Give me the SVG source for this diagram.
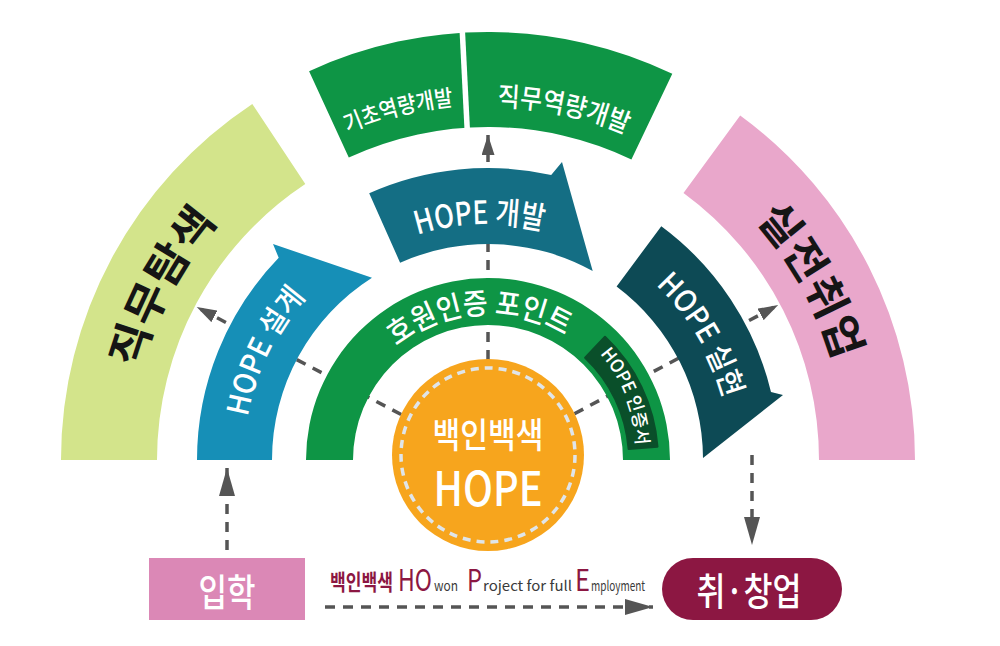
<svg xmlns="http://www.w3.org/2000/svg" xmlns:xlink="http://www.w3.org/1999/xlink" width="1000" height="646" viewBox="0 0 1000 646">
<style>
.t{font-family:"Noto Sans CJK KR","Noto Sans",sans-serif;}
.w{fill:#fff;font-weight:500;}
.k{fill:#151515;font-weight:bold;}
.m{fill:#8c1742;}
.g{fill:#3a3a3a;}
.dash{fill:none;stroke:#555;stroke-width:3.5;stroke-dasharray:10 8;}
</style>
<defs>
<marker id="ahL" markerUnits="userSpaceOnUse" markerWidth="28" markerHeight="16" viewBox="0 0 28 16" refX="28" refY="8" orient="auto"><path d="M0,0 L28,8 L0,16 Z" fill="#555"/></marker>
<marker id="ahS" markerUnits="userSpaceOnUse" markerWidth="20" markerHeight="13" viewBox="0 0 20 13" refX="20" refY="6.5" orient="auto"><path d="M0,0 L20,6.5 L0,13 Z" fill="#555"/></marker>
<path id="pSeol" d="M244.6,477 A244,244 0 0 1 351.6,257.7"/>
<path id="pGae" d="M362.9,259.9 A236,236 0 0 1 598.8,251.6"/>
<path id="pSil" d="M607.2,249.4 A244,244 0 0 1 732,457.9"/>
<path id="pHo" d="M370.6,373.2 A146,146 0 0 1 593.9,359.5"/>
<path id="pCert" d="M590.3,343.8 A148,148 0 0 1 635.8,459"/>
<path id="pJik" d="M128.2,472.6 A360,360 0 0 1 297.2,154.7"/>
<path id="pSiljeon" d="M673.4,151.4 A360,360 0 0 1 847.9,466.3"/>
<path id="pGicho" d="M238.9,205.6 A356,356 0 0 1 583.7,117.1"/>
<path id="pJikmu" d="M379.8,123 A354,354 0 0 1 725.8,197.8"/>
</defs>
<rect width="1000" height="646" fill="#fff"/>

<g id="connectors">
<line class="dash" x1="488" y1="360" x2="488" y2="135" marker-end="url(#ahS)"/>
<line class="dash" x1="401.2" y1="414.5" x2="196.7" y2="307.1" marker-end="url(#ahS)"/>
<line class="dash" x1="574.4" y1="413.8" x2="778.2" y2="305" marker-end="url(#ahS)"/>
<line class="dash" x1="227" y1="550" x2="227" y2="468" marker-end="url(#ahL)"/>
<line class="dash" x1="752" y1="455" x2="752" y2="545" marker-end="url(#ahL)"/>
<line class="dash" x1="325" y1="607" x2="653" y2="607" marker-end="url(#ahL)"/>
</g>

<g id="jikmu-tamsaek">
<path d="M61,460 A427,427 0 0 1 252.3,103.9 L305.3,184 A331,331 0 0 0 157,460 Z" fill="#d3e48b"/>
<text class="t k" font-size="43" text-anchor="middle"><textPath xlink:href="#pJik" startOffset="50%" textLength="168" lengthAdjust="spacingAndGlyphs">직무탐색</textPath></text>
</g>

<g id="siljeon-chwieop">
<path d="M740.2,115.4 A427,427 0 0 1 915,460 L819,460 A331,331 0 0 0 683.5,192.9 Z" fill="#e9a7cb"/>
<text class="t k" font-size="43" text-anchor="middle"><textPath xlink:href="#pSiljeon" startOffset="50%" textLength="164" lengthAdjust="spacingAndGlyphs">실전취업</textPath></text>
</g>

<g id="top-boxes">
<path d="M309.1,71.2 A428,428 0 0 1 672.3,73.7 L631.4,159.4 A333,333 0 0 0 348.8,157.5 Z" fill="#0e9545"/>
<line x1="462" y1="25" x2="467.5" y2="135" stroke="#fff" stroke-width="5.5"/>
</g>
<g id="gicho">
<text class="t w" font-size="23" text-anchor="middle"><textPath xlink:href="#pGicho" startOffset="50%" textLength="110" lengthAdjust="spacingAndGlyphs">기초역량개발</textPath></text>
</g>
<g id="jikmu-dev">
<text class="t w" font-size="27" text-anchor="middle"><textPath xlink:href="#pJikmu" startOffset="50%" textLength="132" lengthAdjust="spacingAndGlyphs">직무역량개발</textPath></text>
</g>

<g id="hope-design">
<path d="M197,460 A291,291 0 0 1 278.7,257.8 L273,244 L372,277.8 A216,216 0 0 0 272,460 Z" fill="#168fb7"/>
<text class="t w" font-size="30" text-anchor="middle"><textPath xlink:href="#pSeol" startOffset="50%" textLength="135" lengthAdjust="spacingAndGlyphs">HOPE 설계</textPath></text>
</g>

<g id="hope-dev">
<path d="M369.2,193.2 A292,292 0 0 1 551.2,174.9 L562,162 L592.7,271.1 A216,216 0 0 0 400.1,262.7 Z" fill="#146e84"/>
<text class="t w" font-size="32" text-anchor="middle"><textPath xlink:href="#pGae" startOffset="50%" textLength="127" lengthAdjust="spacingAndGlyphs">HOPE 개발</textPath></text>
</g>

<g id="hope-realize">
<path d="M661.3,226.2 A291,291 0 0 1 771,392.1 L783,395 L703,458 A216,216 0 0 0 616.6,286.5 Z" fill="#0d4a55"/>
<text class="t w" font-size="30" text-anchor="middle"><textPath xlink:href="#pSil" startOffset="50%" textLength="134" lengthAdjust="spacingAndGlyphs">HOPE 실현</textPath></text>
</g>

<g id="howon-point">
<path d="M306,460 A182,182 0 0 1 670,460 L623,460 A135,135 0 0 0 353,460 Z" fill="#0e9545"/>
<text class="t w" font-size="30" text-anchor="middle"><textPath xlink:href="#pHo" startOffset="50%" textLength="180" lengthAdjust="spacingAndGlyphs">호원인증 포인트</textPath></text>
</g>

<g id="hope-cert">
<path d="M605,336.7 A170,170 0 0 1 657.5,446.7 L628.6,448.9 A141,141 0 0 0 585.1,357.7 Z" fill="#0a4f2a" stroke="#0a4f2a" stroke-width="2" stroke-linejoin="round"/>
<text class="t w" font-size="18" text-anchor="middle"><textPath xlink:href="#pCert" startOffset="50%" textLength="100" lengthAdjust="spacingAndGlyphs">HOPE 인증서</textPath></text>
</g>

<g id="center-hope">
<circle cx="488" cy="455" r="96" fill="#f7a51d"/>
<circle cx="488" cy="455" r="87" fill="none" stroke="#dfe5ea" stroke-width="3.5" stroke-dasharray="8 6"/>
<text class="t w" text-anchor="middle" lengthAdjust="spacingAndGlyphs"><tspan x="488" y="448" font-size="35" textLength="111" lengthAdjust="spacingAndGlyphs">백인백색</tspan><tspan x="488" y="506" font-size="47" textLength="109" lengthAdjust="spacingAndGlyphs">HOPE</tspan></text>
</g>

<g id="ipak">
<rect x="149" y="558" width="156" height="62" fill="#db88b6"/>
<text class="t w" x="227" y="606" font-size="38" font-weight="bold" text-anchor="middle" textLength="57" lengthAdjust="spacingAndGlyphs">입학</text>
</g>

<g id="chwi-changeop">
<rect x="662" y="558" width="180" height="62" rx="31" fill="#8c1742"/>
<text class="t w" x="749" y="605" font-size="38" font-weight="bold" text-anchor="middle" textLength="105" lengthAdjust="spacingAndGlyphs">취·창업</text>
</g>

<g id="caption">
<text class="t"><tspan class="m" x="330" y="590" font-size="22" font-weight="bold" textLength="63" lengthAdjust="spacingAndGlyphs">백인백색</tspan><tspan class="m" x="398" y="591" font-size="30" textLength="34" lengthAdjust="spacingAndGlyphs">HO</tspan><tspan class="g" x="434" y="591" font-size="14" textLength="24" lengthAdjust="spacingAndGlyphs">won</tspan><tspan class="m" x="467" y="591" font-size="30" textLength="15" lengthAdjust="spacingAndGlyphs">P</tspan><tspan class="g" x="483" y="591" font-size="14" textLength="89" lengthAdjust="spacingAndGlyphs">roject  for  full</tspan><tspan class="m" x="575" y="591" font-size="30" textLength="15" lengthAdjust="spacingAndGlyphs">E</tspan><tspan class="g" x="591" y="591" font-size="14" textLength="54" lengthAdjust="spacingAndGlyphs">mployment</tspan></text>
</g>
</svg>
